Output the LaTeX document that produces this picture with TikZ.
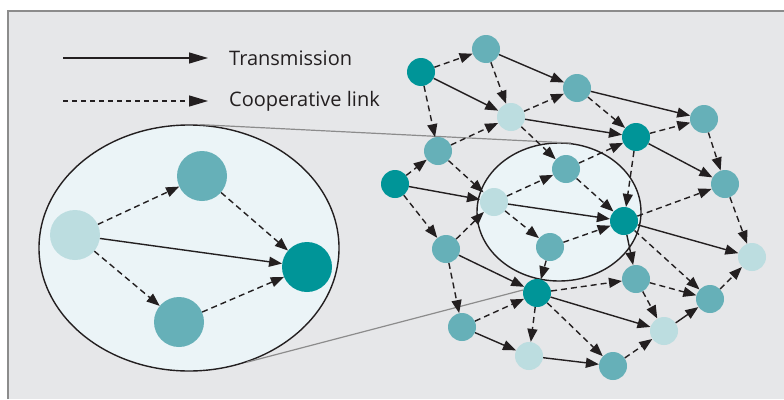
\documentclass[tikz,border=0pt]{standalone}
\usepackage{fontspec}
\setmainfont{Open Sans}
\usetikzlibrary{arrows.meta,shapes.geometric}

\definecolor{tealdark}{RGB}{0,149,152}
\definecolor{tealmid}{RGB}{102,176,184}
\definecolor{teallight}{RGB}{188,221,224}
\definecolor{panel}{RGB}{230,231,233}
\definecolor{bubble}{RGB}{235,244,247}
\definecolor{rule}{RGB}{140,140,140}
\definecolor{ink}{RGB}{35,31,32}

\tikzset{
  relay/.style={circle,inner sep=0pt,minimum size=28pt},
  bigrelay/.style={circle,inner sep=0pt,minimum size=50pt},
  dark/.style={fill=tealdark},
  mid/.style={fill=tealmid},
  pale/.style={fill=teallight},
  tx/.style={-{Triangle[length=13pt,width=10pt]},line width=1.4pt,ink},
  coop/.style={tx,dash pattern=on 6pt off 4pt},
  zone/.style={ellipse,draw=ink,line width=1.4pt,fill=bubble,inner sep=0pt},
}

\begin{document}
\begin{tikzpicture}[x=1pt,y=-1pt]
\useasboundingbox (0,0) rectangle (784,399);
\fill[white] (0,0) rectangle (784,399);
\fill[panel] (8,11) rectangle (784,399);
\draw[rule,line width=2pt] (8,399) -- (8,11) -- (784,11);

% legend
\coordinate (tx0) at (63,58);
\coordinate (tx1) at (208,58);
\coordinate (co0) at (63,101);
\coordinate (co1) at (208,101);
\draw[line width=1.3pt,ink,-{Triangle[length=19pt,width=11pt]}] (tx0) -- (tx1);
\draw[line width=1.3pt,ink,dash pattern=on 5pt off 4pt,-{Triangle[length=19pt,width=11pt]}] (co0) -- (co1);
\node[anchor=west,inner sep=0pt,font=\fontsize{20}{24}\selectfont,ink] (txt) at (229,58) {Transmission};
\node[anchor=west,inner sep=0pt,font=\fontsize{20}{24}\selectfont,ink] (cot) at (229,101) {Cooperative link};

% magnified cluster and its outline in the network
\node[zone,minimum width=300pt,minimum height=246pt] (lens) at (189,248) {};
\node[zone,minimum width=164pt,minimum height=138pt] (cell) at (559,212) {};
\coordinate (foot) at (523,290);
\draw[rule,line width=1.2pt] (lens.85) -- (cell.80);
\draw[rule,line width=1.2pt] (lens.-63) -- (foot);

\node[bigrelay,pale] (src) at (75,235) {};
\node[bigrelay,mid] (upper) at (202,176) {};
\node[bigrelay,mid] (lower) at (179,322) {};
\node[bigrelay,dark] (dst) at (307,267) {};

\draw[coop] (src) -- (upper);
\draw[coop] (src) -- (lower);
\draw[tx] (src) -- (dst);
\draw[coop] (upper) -- (dst);
\draw[coop] (lower) -- (dst);

% network
\node[relay,dark] (n1) at (421,72) {};
\node[relay,mid] (n2) at (486,49) {};
\node[relay,pale] (n3) at (511,117) {};
\node[relay,mid] (n4) at (577,88) {};
\node[relay,mid] (n5) at (438,151) {};
\node[relay,dark] (n6) at (395,184) {};
\node[relay,pale] (n7) at (494,202) {};
\node[relay,mid] (n8) at (566,169) {};
\node[relay,dark] (n9) at (636,137) {};
\node[relay,mid] (n10) at (704,119) {};
\node[relay,mid] (n11) at (725,184) {};
\node[relay,dark] (n12) at (624,221) {};
\node[relay,mid] (n13) at (550,247) {};
\node[relay,mid] (n14) at (446,249) {};
\node[relay,dark] (n15) at (537,293) {};
\node[relay,mid] (n16) at (636,279) {};
\node[relay,pale] (n17) at (752,257) {};
\node[relay,mid] (n18) at (710,299) {};
\node[relay,mid] (n19) at (462,327) {};
\node[relay,pale] (n20) at (529,356) {};
\node[relay,pale] (n21) at (664,331) {};
\node[relay,mid] (n22) at (613,366) {};

\draw[coop] (n1) -- (n2);
\draw[tx] (n1) -- (n3);
\draw[coop] (n1) -- (n5);
\draw[coop] (n2) -- (n3);
\draw[tx] (n2) -- (n4);
\draw[coop] (n3) -- (n4);
\draw[tx] (n3) -- (n9);
\draw[coop] (n3) -- (n8);
\draw[coop] (n5) -- (n3);
\draw[coop] (n5) -- (n7);
\draw[coop] (n6) -- (n5);
\draw[tx] (n6) -- (n7);
\draw[coop] (n6) -- (n14);
\draw[coop] (n14) -- (n7);
\draw[coop] (n7) -- (n8);
\draw[tx] (n7) -- (n12);
\draw[coop] (n7) -- (n13);
\draw[coop] (n8) -- (n9);
\draw[coop] (n8) -- (n12);
\draw[coop] (n4) -- (n9);
\draw[tx] (n4) -- (n10);
\draw[coop] (n9) -- (n10);
\draw[tx] (n9) -- (n11);
\draw[coop] (n9) -- (n12);
\draw[coop] (n10) -- (n11);
\draw[coop] (n11) -- (n17);
\draw[coop] (n12) -- (n11);
\draw[tx] (n12) -- (n17);
\draw[tx] (n12) -- (n16);
\draw[coop] (n12) -- (n18);
\draw[coop] (n13) -- (n12);
\draw[coop] (n13) -- (n15);
\draw[tx] (n14) -- (n15);
\draw[coop] (n14) -- (n19);
\draw[coop] (n19) -- (n15);
\draw[coop] (n15) -- (n16);
\draw[coop] (n15) -- (n20);
\draw[tx] (n15) -- (n21);
\draw[coop] (n15) -- (n22);
\draw[tx] (n19) -- (n20);
\draw[tx] (n20) -- (n22);
\draw[coop] (n22) -- (n21);
\draw[tx] (n21) -- (n18);
\draw[coop] (n16) -- (n21);
\draw[coop] (n16) -- (n18);
\draw[coop] (n18) -- (n17);
\end{tikzpicture}
\end{document}
